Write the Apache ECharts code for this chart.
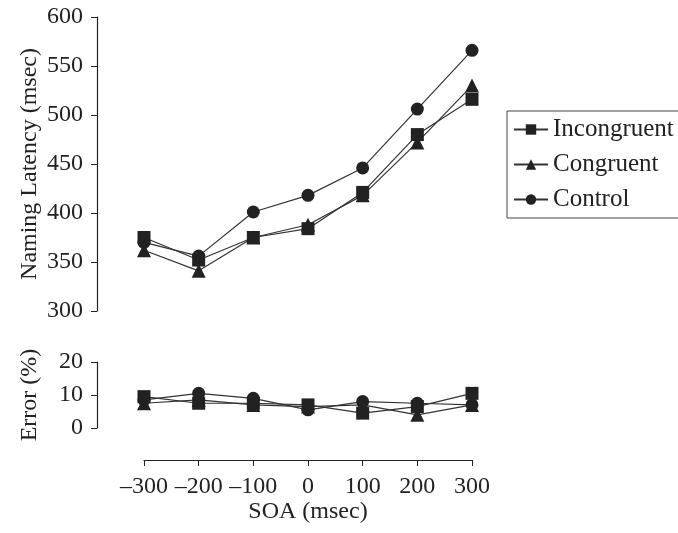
<!DOCTYPE html>
<html>
<head>
<meta charset="utf-8">
<script src="https://cdn.jsdelivr.net/npm/echarts@6/dist/echarts.min.js"></script>
<style>
	html, body { margin: 0; padding: 0; background: #fff; }
	#main { width: 678px; height: 533px; }
</style>
</head>
<body>
<div id="main"></div>
<script>
	var soa = [-300, -200, -100, 0, 100, 200, 300];
	var latIncongruent = [375, 352, 375, 384, 421, 480, 516];
	var latCongruent = [362, 341, 375, 388, 418, 472, 530];
	var latControl = [370, 356, 401, 418, 446, 506, 566];
	var errIncongruent = [9.5, 7.5, 7.5, 7, 4.5, 6.5, 10.5];
	var errCongruent = [7.5, 8.5, 7, 6.5, 7, 4, 7];
	var errControl = [8.5, 10.5, 9, 5.5, 8, 7.5, 7];

	var serif = 'Liberation Serif';
	var ink = '#222';

	function pairs(ys) {
		var out = [];
		for (var i = 0; i < soa.length; i++) out.push([soa[i], ys[i]]);
		return out;
	}
	function fmtX(v) {
		return v < 0 ? '\u2013' + Math.abs(v) : String(v);
	}

	var lineStyle = { color: '#333', width: 1.2 };
	function mk(name, sym, size, data, xi, yi) {
		return {
			name: name, type: 'line', xAxisIndex: xi, yAxisIndex: yi,
			data: pairs(data), symbol: sym, symbolSize: size,
			itemStyle: { color: ink }, lineStyle: lineStyle,
			animation: false
		};
	}

	var yCommon = {
		type: 'value', offset: 47,
		axisLine: { show: true, onZero: false, lineStyle: { color: ink, width: 1.2 } },
		axisTick: { show: true, length: 6, lineStyle: { color: ink } },
		axisLabel: { color: ink, fontFamily: serif, fontSize: 24, margin: 14 },
		splitLine: { show: false },
		nameLocation: 'middle',
		nameTextStyle: { color: ink, fontFamily: serif, fontSize: 24 }
	};

	var chart = echarts.init(document.getElementById('main'));
	chart.setOption({
		backgroundColor: '#fff',
		legend: {
			orient: 'vertical', left: 507, top: 111,
			borderColor: '#444', borderWidth: 1, borderRadius: 0,
			padding: [6, 10, 6, 6], itemGap: 10, itemWidth: 34, itemHeight: 13,
			textStyle: { color: ink, fontFamily: serif, fontSize: 25, lineHeight: 25 },
			data: ['Incongruent', 'Congruent', 'Control']
		},
		grid: [
			{ left: 144, width: 328, top: 17, height: 294 },
			{ left: 144, width: 328, top: 362, height: 66 }
		],
		xAxis: [
			{ type: 'value', gridIndex: 0, min: -300, max: 300, show: false },
			{
				type: 'value', gridIndex: 1, min: -300, max: 300, interval: 100,
				position: 'bottom', offset: 32,
				axisLine: { show: true, onZero: false, lineStyle: { color: ink, width: 1.2 } },
				axisTick: { show: true, length: 6, lineStyle: { color: ink } },
				axisLabel: { color: ink, fontFamily: serif, fontSize: 24, margin: 15, formatter: fmtX },
				splitLine: { show: false },
				name: 'SOA (msec)', nameLocation: 'middle', nameGap: 38,
				nameTextStyle: { color: ink, fontFamily: serif, fontSize: 24 }
			}
		],
		yAxis: [
			Object.assign({}, yCommon, {
				gridIndex: 0, min: 300, max: 600, interval: 50,
				name: 'Naming Latency (msec)', nameGap: 55
			}),
			Object.assign({}, yCommon, {
				gridIndex: 1, min: 0, max: 20, interval: 10,
				name: 'Error (%)', nameGap: 55
			})
		],
		series: [
			mk('Incongruent', 'rect', 13, latIncongruent, 0, 0),
			mk('Congruent', 'triangle', 14, latCongruent, 0, 0),
			mk('Control', 'circle', 13, latControl, 0, 0),
			mk('Incongruent', 'rect', 13, errIncongruent, 1, 1),
			mk('Congruent', 'triangle', 14, errCongruent, 1, 1),
			mk('Control', 'circle', 13, errControl, 1, 1)
		]
	});
</script>
</body>
</html>
